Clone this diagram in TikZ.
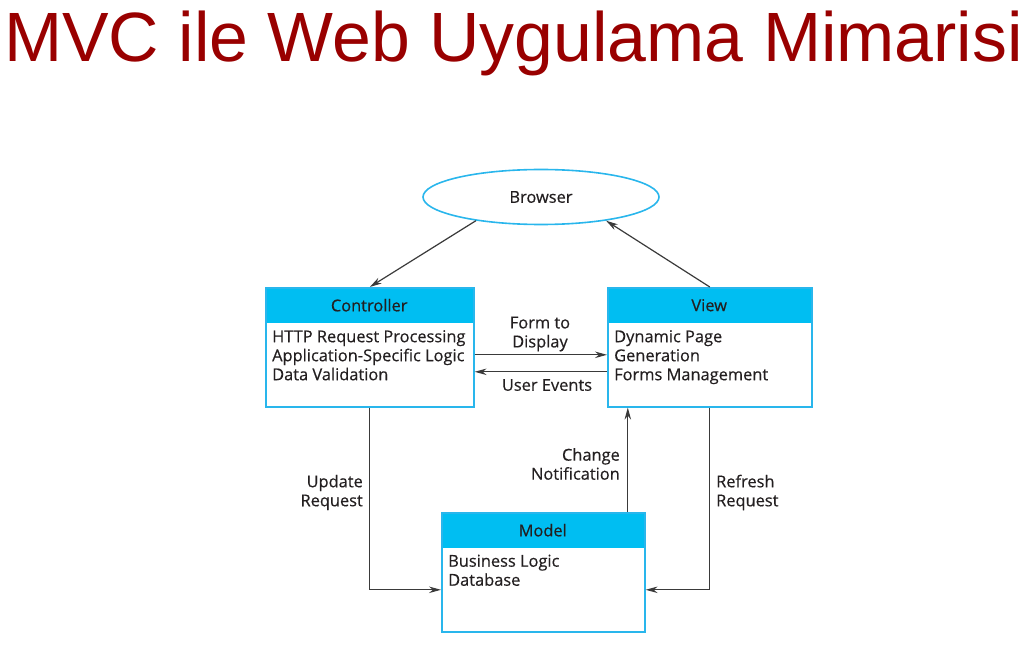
\documentclass[tikz,border=0pt]{standalone}
\usepackage{fontspec}
\setmainfont{Liberation Sans}
\newfontfamily\bodyfont[FakeBold=0.45]{Open Sans}
\usetikzlibrary{shapes.geometric,arrows.meta,calc}
\definecolor{titlered}{HTML}{990000}
\definecolor{hdrcyan}{HTML}{00BEF2}
\definecolor{bordercyan}{HTML}{29B6EC}
\definecolor{txt}{HTML}{231F20}
\definecolor{linegray}{HTML}{3A3A3A}
\tikzset{
  box/.style={draw=bordercyan, line width=1.6pt, anchor=north west, inner sep=0pt,
    minimum width=#1, minimum height=119pt},
  hdr/.style={fill=hdrcyan, anchor=north west, inner sep=0pt, minimum width=#1,
    minimum height=36pt, font=\bodyfont\fontsize{16.4}{19}\selectfont, text=txt},
  body/.style={anchor=north west, inner sep=0pt, align=left,
    font=\bodyfont\fontsize{16.4}{19}\selectfont, text=txt},
  lbl/.style={inner sep=0pt, font=\bodyfont\fontsize{16.4}{19}\selectfont, text=txt},
  arr/.style={draw=linegray, line width=1.2pt, -{Stealth[length=12pt,width=6.5pt]}},
}
\begin{document}
\begin{tikzpicture}[x=1pt,y=-1pt]
\useasboundingbox (0,0) rectangle (1028,652);
% title
\node[anchor=base west, inner sep=0pt, text=titlered, font=\fontsize{69.8}{70}\selectfont] (title) at (4,62) {MVC ile Web Uygulama Mimarisi};
% browser
\node[ellipse, draw=bordercyan, line width=1.6pt, minimum width=236pt, minimum height=55pt, inner sep=0pt,
  font=\bodyfont\fontsize{16.4}{19}\selectfont, text=txt] (browser) at (541,197) {Browser};
% controller
\node[hdr=208pt] (chdr) at (265,287) {Controller};
\node[box=208pt] (ctrl) at (265,287) {};
\node[body] (ctxt) at (272,330) {HTTP Request Processing\\Application-Specific Logic\\Data Validation};
% view
\node[hdr=204pt] (vhdr) at (607,287) {View};
\node[box=204pt] (view) at (607,287) {};
\node[body] (vtxt) at (614,330) {Dynamic Page\\Generation\\Forms Management};
% model
\node[hdr=203pt] (mhdr) at (441,512) {Model};
\node[box=203pt] (model) at (441,512) {};
\node[body] (mtxt) at (448,554.5) {Business Logic\\Database};
% connectors
\draw[arr] (browser.200) -- (ctrl.north);
\draw[arr] (view.north) -- (browser.340);
\draw[arr] ([yshift=-7.5pt]ctrl.east) -- ([yshift=-7.5pt]view.west);
\draw[arr] ([yshift=-24.5pt]view.west) -- ([yshift=-24.5pt]ctrl.east);
\draw[arr] (ctrl.south) |- ([yshift=-17.5pt]model.west);
\draw[arr] ([xshift=84.5pt]model.north) -- ([xshift=84.5pt]model.north |- view.south);
\draw[arr] (view.south) |- ([yshift=-17.5pt]model.east);
% labels
\node[lbl, align=center] (l1) at (540,334) {Form to\\Display};
\node[lbl] (l2) at (547,385) {User Events};
\node[lbl, align=right, anchor=east] (l3) at (363,492.5) {Update\\Request};
\node[lbl, align=right, anchor=east] (l4) at (620,464) {Change\\Notification};
\node[lbl, align=left, anchor=west] (l5) at (716,492.5) {Refresh\\Request};
\end{tikzpicture}
\end{document}
